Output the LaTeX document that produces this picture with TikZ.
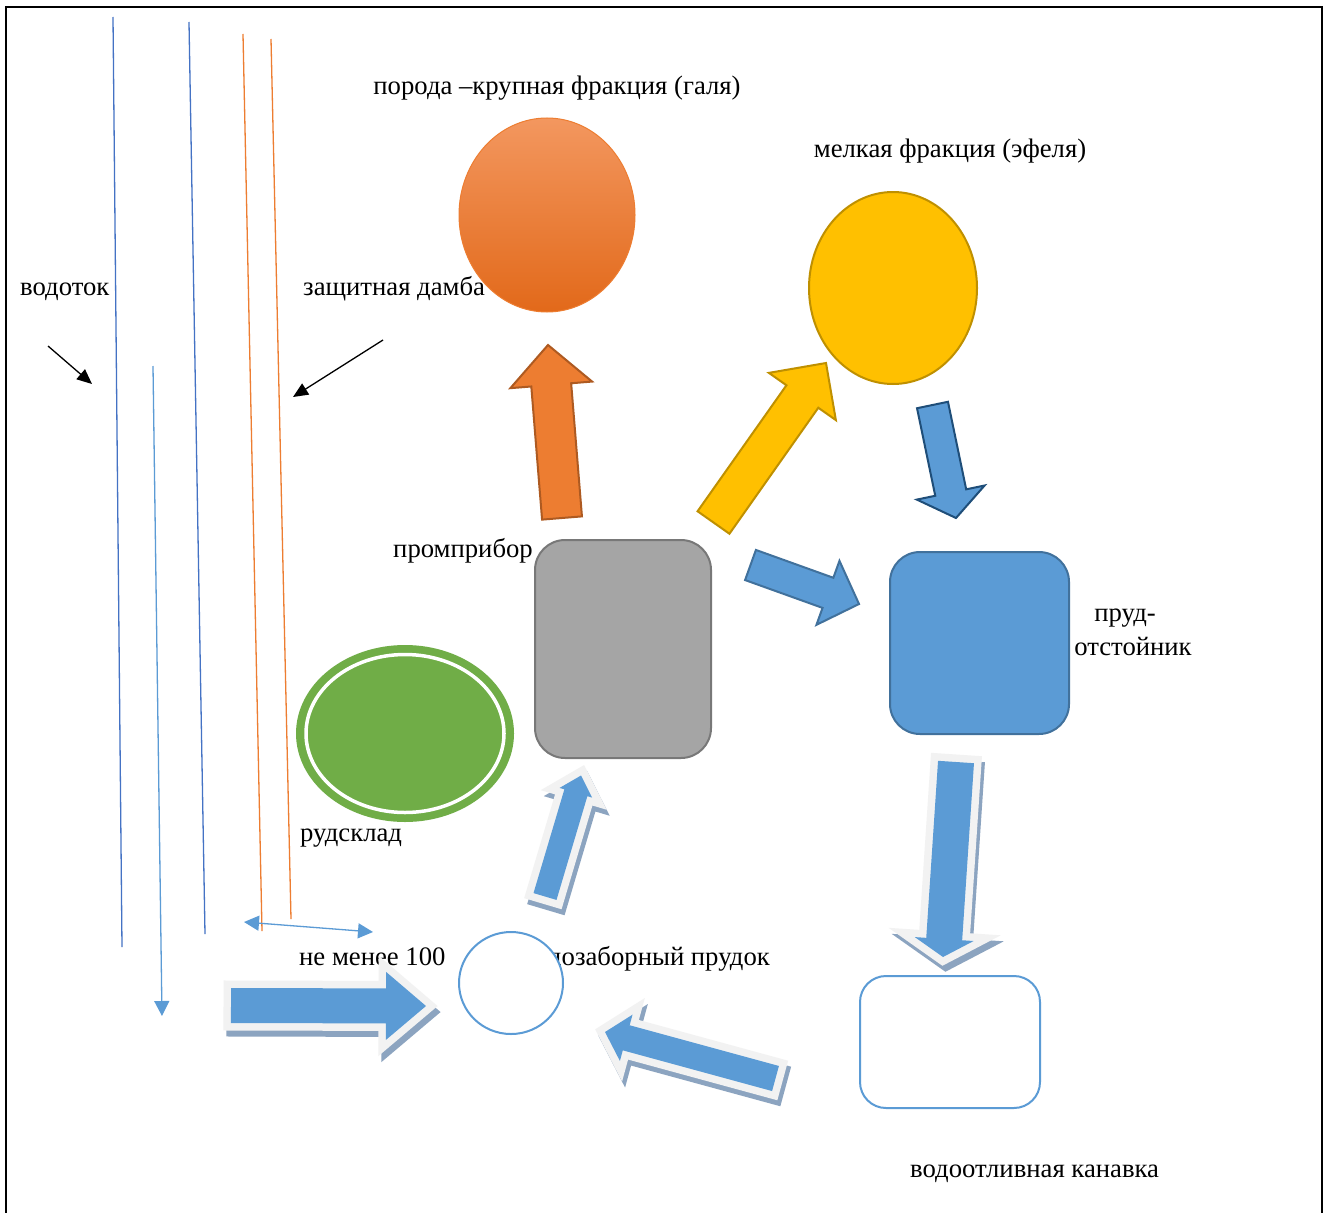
\documentclass[tikz,border=0pt]{standalone}
\usepackage{fontspec}
\setmainfont{Liberation Serif}
\usetikzlibrary{calc,arrows.meta,shapes.geometric}
\definecolor{cblue}{HTML}{5B9BD5}
\definecolor{cblueD}{HTML}{41719C}
\definecolor{cnavy}{HTML}{1F4E79}
\definecolor{cline}{HTML}{4472C4}
\definecolor{corange}{HTML}{ED7D31}
\definecolor{corangeD}{HTML}{AE5A21}
\definecolor{corangeL}{HTML}{F3975F}
\definecolor{corangeB}{HTML}{E2691A}
\definecolor{cyellow}{HTML}{FFC000}
\definecolor{cyellowD}{HTML}{BF9000}
\definecolor{cgreen}{HTML}{70AD47}
\definecolor{cgray}{HTML}{A5A5A5}
\definecolor{cgrayD}{HTML}{787878}
\definecolor{cframe}{HTML}{F2F2F2}
\definecolor{cshadow}{HTML}{8CA4C0}

\newcommand\arrpath[4]{($(#1)!#3!90:(#2)$) -- ($(hb)!#3!90:(#2)$) -- ($(hb)!#4!90:(#2)$) -- (#2) -- ($(hb)!#4!-90:(#2)$) -- ($(hb)!#3!-90:(#2)$) -- ($(#1)!#3!-90:(#2)$) -- cycle}
\newcommand\plainarrow[6]{%
  \coordinate (hb) at ($(#3)!#6!(#2)$);
  \filldraw[#1] \arrpath{#2}{#3}{#4}{#5};}
\newcommand\fancyarrow[5]{%
  \coordinate (hb) at ($(#2)!#5!(#1)$);
  \begin{scope}[transform canvas={shift={(3pt,-6pt)}}]
    \filldraw[cshadow, line width=15pt, line join=miter] \arrpath{#1}{#2}{#3}{#4};
  \end{scope}
  \filldraw[cframe, line width=15pt, line join=miter] \arrpath{#1}{#2}{#3}{#4};
  \fill[cblue] \arrpath{#1}{#2}{#3}{#4};}

\tikzset{
  lbl/.style={font=\fontsize{26.7}{31}\selectfont, inner sep=0pt},
  thin line/.style={line width=1.3pt},
  tip/.style={-{Triangle[length=15pt,width=15pt]}},
}

\begin{document}
\begin{tikzpicture}[x=1pt,y=-1pt]
\useasboundingbox (0,0) rectangle (1329,1212);
\fill[white] (0,0) rectangle (1329,1212);
% frame
\draw[line width=2.5pt] (6,1215) -- (6,7) -- (1322,7) -- (1322,1215);

% stream and dam lines
\draw[cline, thin line] (113,17) -- (122,947);
\draw[cline, thin line] (189,22) -- (205,934);
\draw[cblue, thin line, tip] (153,366) -- (162,1016);
\draw[corange, thin line] (243,34) -- (262,931);
\draw[corange, thin line] (271,39) -- (291,919);
\draw[cblue, thin line, {Triangle[length=15pt,width=15pt]}-{Triangle[length=15pt,width=15pt]}] (244,922) -- (373,932);

% labels
\node[lbl, anchor=base west] (tvod) at (20,295) {водоток};
\node[lbl, anchor=base west] (tdam) at (303,295) {защитная дамба};
\node[lbl, anchor=base] (tgal) at (557,95) {порода –крупная фракция (галя)};
\node[lbl, anchor=base] (tefel) at (950,157) {мелкая фракция (эфеля)};
\node[lbl, anchor=base east] (tprom) at (533,557) {промприбор};
\node[lbl, anchor=base] (tprud1) at (1125,621) {пруд-};
\node[lbl, anchor=base] (tprud2) at (1133,655) {отстойник};
\node[lbl, anchor=base west] (trud) at (300,841) {рудсклад};
\node[lbl, anchor=base west] (tmin) at (299,965) {не менее 100};
\node[lbl, anchor=base east] (tvz) at (770,965) {водозаборный прудок};
\node[lbl, anchor=base west] (tkan) at (910,1177) {водоотливная канавка};

% black pointer arrows
\coordinate (p1s) at (48,346); \coordinate (p1e) at (92,384);
\coordinate (p2s) at (383,340); \coordinate (p2e) at (293,397);
\draw[thin line, -{Triangle[length=15pt,width=13pt]}] (p1s) -- (p1e);
\draw[thin line, -{Triangle[length=15pt,width=13pt]}] (p2s) -- (p2e);

% shapes
\node[ellipse, inner sep=0pt, minimum width=176pt, minimum height=194pt, top color=corangeL, bottom color=corangeB, draw=corange, line width=1pt] (gal) at (547,215) {};
\node[ellipse, inner sep=0pt, minimum width=168pt, minimum height=192pt, fill=cyellow, draw=cyellowD, line width=2pt] (efel) at (893,288) {};
\node[ellipse, inner sep=0pt, minimum width=218pt, minimum height=177pt, fill=cgreen] (rud) at (405,733.5) {};
\draw[white, line width=3.5pt] (405,733.5) ellipse [x radius=99, y radius=79];
\node[rectangle, rounded corners=30pt, inner sep=0pt, minimum width=176pt, minimum height=218pt, fill=cgray, draw=cgrayD, line width=2pt] (prom) at (623,649) {};
\node[rectangle, rounded corners=30pt, inner sep=0pt, minimum width=179pt, minimum height=182pt, fill=cblue, draw=cblueD, line width=2pt] (otst) at (979.5,643) {};
\node[rectangle, rounded corners=26pt, inner sep=0pt, minimum width=180pt, minimum height=132pt, fill=white, draw=cblue, line width=2pt] (kan) at (950,1042) {};
\node[ellipse, inner sep=0pt, minimum width=104pt, minimum height=102pt, fill=white, draw=cblue, line width=2pt] (vz) at (511,983) {};

% plain block arrows
\coordinate (a1t) at (562,518); \coordinate (a1h) at (548,345);
\plainarrow{fill=corange, draw=corangeD, line width=2pt}{a1t}{a1h}{20pt}{41pt}{40pt}
\coordinate (a2t) at (713.5,522.5); \coordinate (a2h) at (826,363);
\plainarrow{fill=cyellow, draw=cyellowD, line width=2pt}{a2t}{a2h}{19.5pt}{41pt}{41pt}
\coordinate (a3t) at (932.5,405); \coordinate (a3h) at (956,518);
\plainarrow{fill=cblue, draw=cnavy, line width=2pt}{a3t}{a3h}{15.8pt}{34.6pt}{26pt}
\coordinate (a4t) at (750.5,565); \coordinate (a4h) at (859,604);
\plainarrow{fill=cblue, draw=cblueD, line width=2pt}{a4t}{a4h}{16pt}{34pt}{33pt}

% styled block arrows
\coordinate (b1t) at (231,1005.5); \coordinate (b1h) at (426,1006);
\fancyarrow{b1t}{b1h}{17.5pt}{34pt}{40pt}
\coordinate (b2t) at (545,896.5); \coordinate (b2h) at (581,775.5);
\fancyarrow{b2t}{b2h}{12pt}{17pt}{18pt}
\coordinate (b3t) at (956,762); \coordinate (b3h) at (943,957);
\fancyarrow{b3t}{b3h}{18pt}{29.5pt}{18pt}
\coordinate (b4t) at (775.5,1078.5); \coordinate (b4h) at (605,1032);
\fancyarrow{b4t}{b4h}{13pt}{24pt}{22pt}
\end{tikzpicture}
\end{document}
